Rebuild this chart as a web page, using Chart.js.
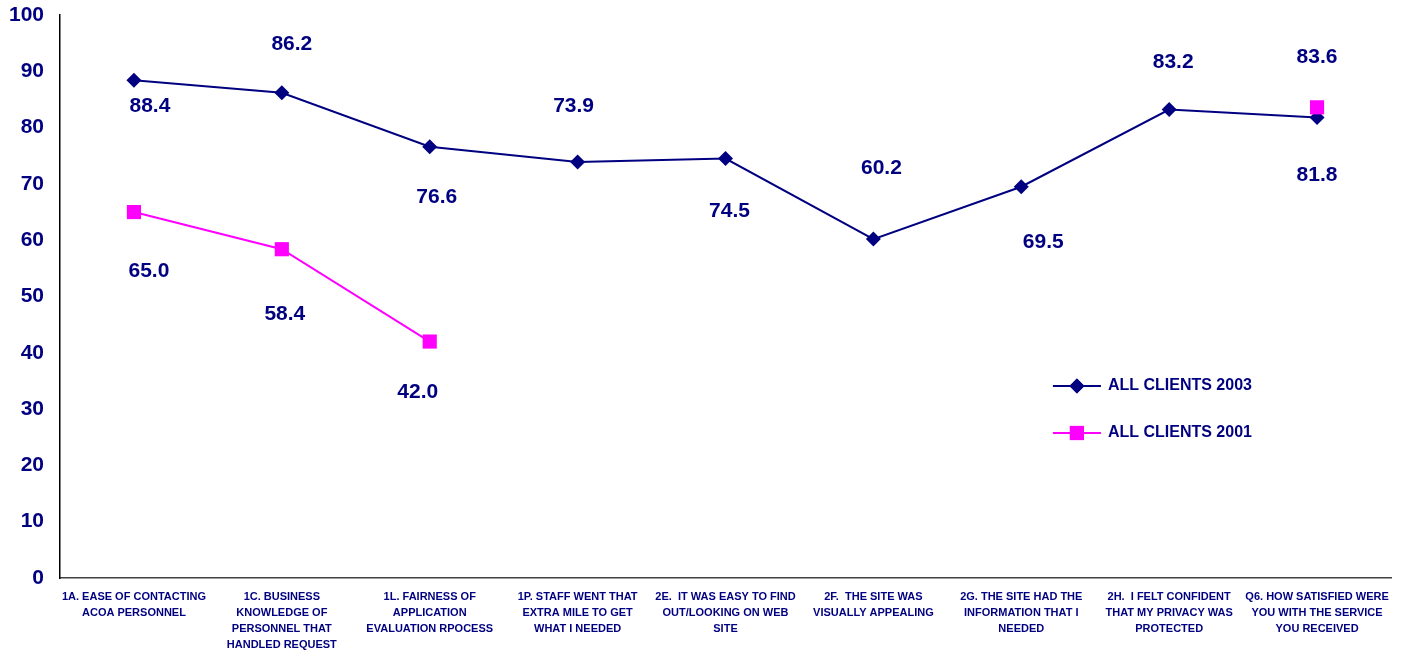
<!DOCTYPE html>
<html>
<head>
  <title>All clients 2003 vs 2001</title>
  <script src="https://cdn.jsdelivr.net/npm/chart.js"></script>
  <style>
    body { margin: 0; background: #fff; }
    #wrap { width: 1401px; height: 650px; }
  </style>
</head>
<body>
<div id="wrap"><canvas id="myChart" width="1401" height="650"></canvas></div>
<script>
  const categories = [
    ['1A. EASE OF CONTACTING', 'ACOA PERSONNEL'],
    ['1C. BUSINESS', 'KNOWLEDGE OF', 'PERSONNEL THAT', 'HANDLED REQUEST'],
    ['1L. FAIRNESS OF', 'APPLICATION', 'EVALUATION RPOCESS'],
    ['1P. STAFF WENT THAT', 'EXTRA MILE TO GET', 'WHAT I NEEDED'],
    ['2E.  IT WAS EASY TO FIND', 'OUT/LOOKING ON WEB', 'SITE'],
    ['2F.  THE SITE WAS', 'VISUALLY APPEALING'],
    ['2G. THE SITE HAD THE', 'INFORMATION THAT I', 'NEEDED'],
    ['2H.  I FELT CONFIDENT', 'THAT MY PRIVACY WAS', 'PROTECTED'],
    ['Q6. HOW SATISFIED WERE', 'YOU WITH THE SERVICE', 'YOU RECEIVED']
  ];
  const clients2003 = [88.4, 86.2, 76.6, 73.9, 74.5, 60.2, 69.5, 83.2, 81.8];
  const clients2001 = [65.0, 58.4, 42.0, null, null, null, null, null, 83.6];
  const yTicks = [0, 10, 20, 30, 40, 50, 60, 70, 80, 90, 100];

  const NAVY = '#000080';
  const PINK = '#FF00FF';
  const FONT = '"Liberation Sans", Arial, sans-serif';

  // value labels were nudged by hand in the original, so keep a [dx, dy] nudge per point
  const labelNudge2003 = [[16, 26], [10, -48], [7, 50], [-4, -56], [4, 53], [8, -71], [22, 55], [4, -47], [0, 58]];
  const labelNudge2001 = [[15, 59], [3, 65], [-12, 51], null, null, null, null, null, [0, -50]];

  const valueLabels = {
    id: 'valueLabels',
    afterDatasetsDraw(chart) {
      const ctx = chart.ctx;
      ctx.save();
      ctx.font = 'bold 21px ' + FONT;
      ctx.fillStyle = NAVY;
      ctx.textAlign = 'center';
      ctx.textBaseline = 'middle';
      chart.data.datasets.forEach((ds, i) => {
        const meta = chart.getDatasetMeta(i);
        meta.data.forEach((pt, j) => {
          const v = ds.data[j];
          if (v === null) return;
          const n = ds.nudge[j];
          ctx.fillText(v.toFixed(1), pt.x + n[0], pt.y + n[1]);
        });
      });
      ctx.restore();
    }
  };

  const customLegend = {
    id: 'customLegend',
    afterDraw(chart) {
      const ctx = chart.ctx;
      const area = chart.chartArea;
      const x0 = area.left + (area.right - area.left) * 0.746;
      const items = [
        { label: 'ALL CLIENTS 2003', color: NAVY, style: 'rectRot', r: 7.5, y: 386 },
        { label: 'ALL CLIENTS 2001', color: PINK, style: 'rect', r: 10, y: 433 }
      ];
      ctx.save();
      items.forEach(it => {
        ctx.strokeStyle = it.color;
        ctx.lineWidth = 2;
        ctx.beginPath();
        ctx.moveTo(x0, it.y);
        ctx.lineTo(x0 + 48, it.y);
        ctx.stroke();
        ctx.fillStyle = it.color;
        Chart.helpers.drawPoint(ctx, { pointStyle: it.style, radius: it.r, borderWidth: 0 }, x0 + 24, it.y);
        ctx.fill();
        ctx.fillStyle = NAVY;
        ctx.font = 'bold 16px ' + FONT;
        ctx.textAlign = 'left';
        ctx.textBaseline = 'middle';
        ctx.fillText(it.label, x0 + 55, it.y);
      });
      ctx.restore();
    }
  };

  const ctx = document.getElementById('myChart').getContext('2d');
  new Chart(ctx, {
    type: 'line',
    data: {
      labels: categories,
      datasets: [
        {
          label: 'ALL CLIENTS 2001',
          data: clients2001,
          nudge: labelNudge2001,
          borderColor: PINK,
          backgroundColor: PINK,
          borderWidth: 2,
          pointStyle: 'rect',
          pointRadius: 10,
          pointHoverRadius: 10,
          pointBorderWidth: 0,
          spanGaps: false,
          order: 0
        },
        {
          label: 'ALL CLIENTS 2003',
          data: clients2003,
          nudge: labelNudge2003,
          borderColor: NAVY,
          backgroundColor: NAVY,
          borderWidth: 2,
          pointStyle: 'rectRot',
          pointRadius: 7.5,
          pointHoverRadius: 7.5,
          pointBorderWidth: 0,
          order: 1
        }
      ]
    },
    options: {
      responsive: false,
      animation: false,
      events: [],
      layout: { padding: { top: 15, right: 9, bottom: 0, left: 0 } },
      plugins: {
        legend: { display: false },
        tooltip: { enabled: false }
      },
      scales: {
        x: {
          offset: true,
          grid: { display: false, drawTicks: false },
          border: { display: true, color: '#404040', width: 1.5 },
          ticks: {
            color: NAVY,
            font: { family: FONT, size: 11, weight: 'bold', lineHeight: 1.45 },
            padding: 11,
            maxRotation: 0,
            autoSkip: false
          },
          afterFit(scale) { scale.height = 72; }
        },
        y: {
          min: 0,
          max: 100,
          afterBuildTicks(scale) { scale.ticks = yTicks.map(v => ({ value: v })); },
          grid: { display: false, drawTicks: false },
          border: { display: true, color: '#000', width: 1.5 },
          ticks: {
            color: NAVY,
            font: { family: FONT, size: 21, weight: 'bold' },
            padding: 16
          },
          afterFit(scale) {
            scale.width = 60;
            scale.paddingTop = 0;
            scale.paddingBottom = 0;
          }
        }
      }
    },
    plugins: [valueLabels, customLegend]
  });
</script>
</body>
</html>
